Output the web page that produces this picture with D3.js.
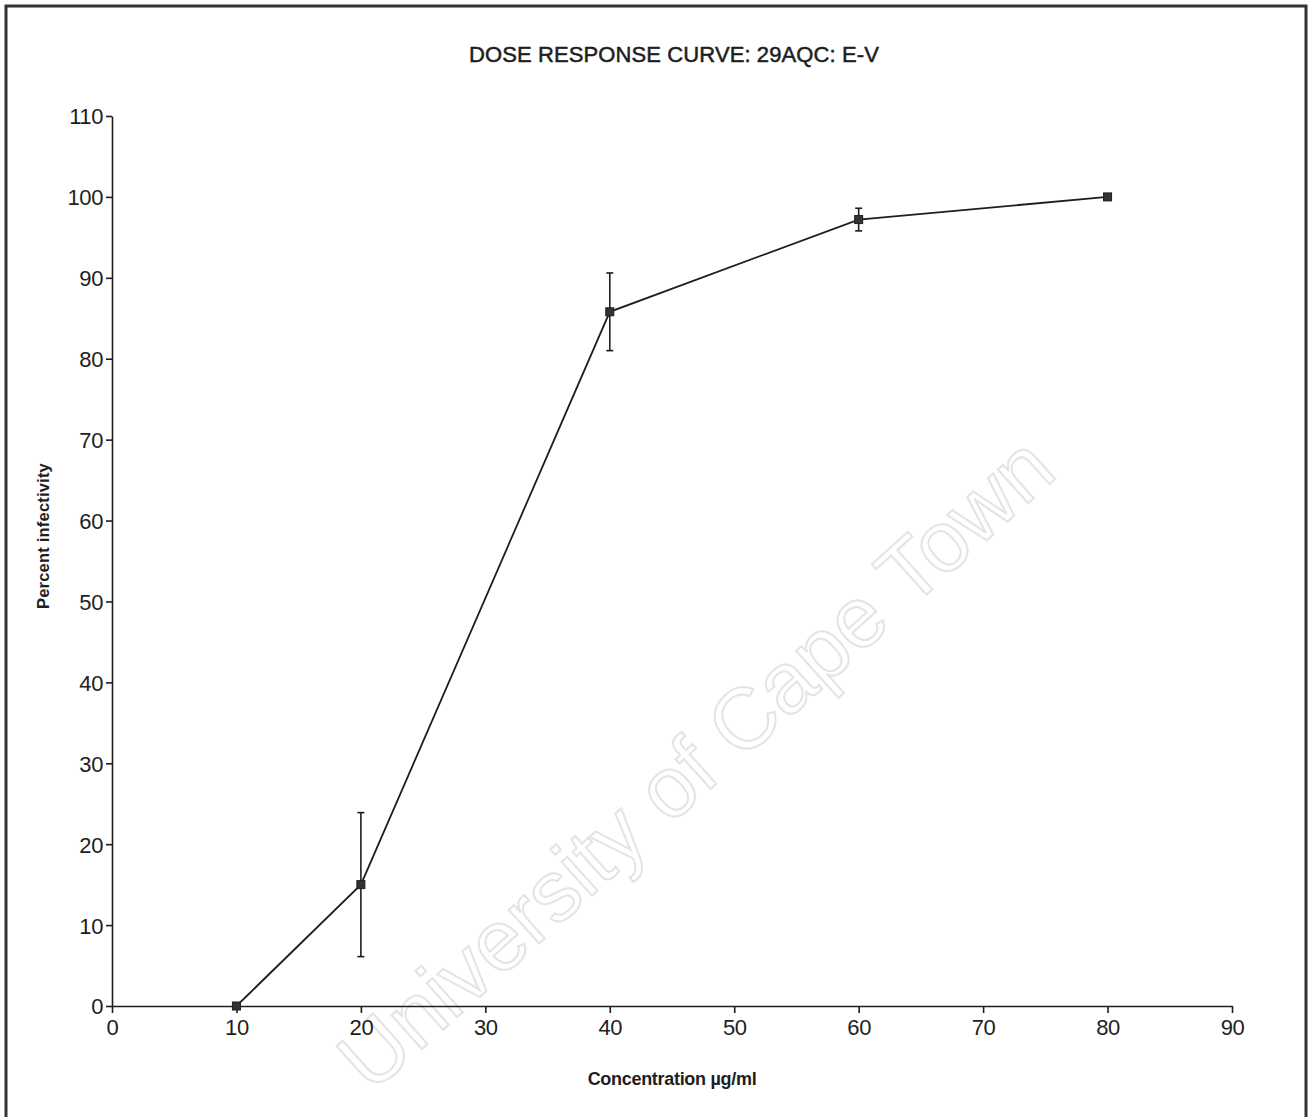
<!DOCTYPE html>
<html>
<head>
<meta charset="utf-8">
<script src="https://cdn.jsdelivr.net/npm/d3@7"></script>
<style>
  html, body { margin: 0; padding: 0; background: #fff; }
  svg { display: block; }
</style>
</head>
<body>
<svg id="chart" width="1310" height="1117"></svg>
<script>
// Dose-response measurements
const concentrations = [10, 20, 40, 60, 80];
const infectivity   = [0, 15, 85.8, 97.2, 100];
const errors        = [0, 8.9, 4.8, 1.4, 0];

const xTicks = [0, 10, 20, 30, 40, 50, 60, 70, 80, 90];
const yTicks = [0, 10, 20, 30, 40, 50, 60, 70, 80, 90, 100, 110];

const titleText = "DOSE RESPONSE CURVE: 29AQC: E-V";
const xLabel = "Concentration \u00b5g/ml";
const yLabel = "Percent infectivity";
const watermark = "University of Cape Town";

const svg = d3.select("#chart");
const ink = "#1e1e1e";
const font = "Liberation Sans, Arial, sans-serif";

const x = d3.scaleLinear().domain([0, 90]).range([112, 1232]);
const y = d3.scaleLinear().domain([0, 110]).range([1006, 116]);

// Page frame
svg.append("path")
  .attr("d", "M6,1117 V6 H1306 V1117")
  .attr("fill", "none")
  .attr("stroke", "#333")
  .attr("stroke-width", 3);

// Watermark
svg.append("text")
  .attr("transform", "translate(700,768) rotate(-42)")
  .attr("text-anchor", "middle")
  .attr("dominant-baseline", "middle")
  .attr("font-family", font)
  .attr("font-size", 86)
  .attr("fill", "none")
  .attr("stroke", "#e4e4e4")
  .attr("stroke-width", 2)
  .text(watermark);

// Title
svg.append("text")
  .attr("x", 674).attr("y", 62)
  .attr("text-anchor", "middle")
  .attr("font-family", font)
  .attr("font-size", 22)
  .attr("letter-spacing", 0.1)
  .attr("fill", ink)
  .attr("stroke", ink)
  .attr("stroke-width", 0.5)
  .text(titleText);

// Axes
const xAxis = svg.append("g")
  .attr("transform", `translate(0,${y(0)})`)
  .call(d3.axisBottom(x).tickValues(xTicks).tickSize(7).tickPadding(4).tickSizeOuter(0));
const yAxis = svg.append("g")
  .attr("transform", `translate(${x(0)},0)`)
  .call(d3.axisLeft(y).tickValues(yTicks).tickSize(6).tickPadding(3).tickSizeOuter(0));

[xAxis, yAxis].forEach(g => {
  g.select(".domain").attr("stroke", ink).attr("stroke-width", 1.6);
  g.selectAll(".tick line").attr("stroke", ink).attr("stroke-width", 1.6);
  g.selectAll(".tick text")
    .attr("fill", ink)
    .attr("font-family", font)
    .attr("font-size", 22)
    .attr("letter-spacing", -0.4);
});
xAxis.selectAll(".tick text").attr("dy", "0.8em");
yAxis.selectAll(".tick text").attr("dy", "0.36em");

// Axis titles
svg.append("text")
  .attr("x", 672).attr("y", 1085)
  .attr("text-anchor", "middle")
  .attr("font-family", font)
  .attr("font-weight", "bold")
  .attr("font-size", 18)
  .attr("letter-spacing", -0.3)
  .attr("fill", ink)
  .text(xLabel);

svg.append("text")
  .attr("transform", "translate(49,536) rotate(-90)")
  .attr("text-anchor", "middle")
  .attr("font-family", font)
  .attr("font-weight", "bold")
  .attr("font-size", 16.5)
  .attr("letter-spacing", 0.2)
  .attr("fill", ink)
  .text(yLabel);

const pts = concentrations.map((c, i) => ({ c, v: infectivity[i], e: errors[i] }));

// Error bars
const eb = svg.append("g").attr("stroke", ink).attr("stroke-width", 1.6);
pts.filter(d => d.e > 0).forEach(d => {
  eb.append("line")
    .attr("x1", x(d.c)).attr("x2", x(d.c))
    .attr("y1", y(d.v - d.e)).attr("y2", y(d.v + d.e));
  [d.v - d.e, d.v + d.e].forEach(v => {
    eb.append("line")
      .attr("x1", x(d.c) - 3.5).attr("x2", x(d.c) + 3.5)
      .attr("y1", y(v)).attr("y2", y(v));
  });
});

// Curve
svg.append("path")
  .datum(pts)
  .attr("fill", "none")
  .attr("stroke", ink)
  .attr("stroke-width", 1.8)
  .attr("d", d3.line().x(d => x(d.c)).y(d => y(d.v)));

// Markers
svg.append("g").selectAll("rect")
  .data(pts)
  .join("rect")
  .attr("x", d => x(d.c) - 4)
  .attr("y", d => y(d.v) - 4)
  .attr("width", 8).attr("height", 8)
  .attr("fill", "#333")
  .attr("stroke", ink)
  .attr("stroke-width", 1);
</script>
</body>
</html>
